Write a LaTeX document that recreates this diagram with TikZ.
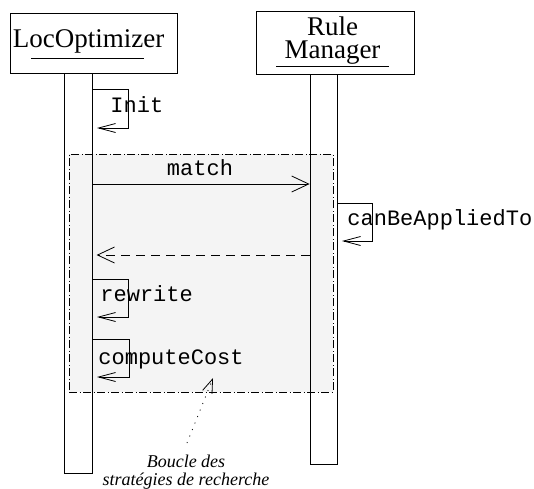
\documentclass[tikz,border=0pt]{standalone}
\usepackage{fontspec}
\setmainfont{Liberation Serif}
\newfontfamily\msgfont{Liberation Mono}
\usetikzlibrary{arrows.meta,positioning}
\definecolor{loopgray}{gray}{0.955}

\begin{document}
\begin{tikzpicture}[x=1pt,y=-1pt,line width=0.8pt,
  objbox/.style={draw,fill=white,inner sep=0pt},
  objname/.style={inner sep=0pt,font=\fontsize{27}{23}\selectfont,align=center},
  lifebar/.style={draw,inner sep=0pt},
  msg/.style={-{Straight Barb[length=17pt,width=16pt]}},
  selfmsg/.style={-{Straight Barb[length=17pt,width=9pt]}},
  lbl/.style={font=\msgfont\fontsize{22}{22}\selectfont,inner sep=0pt,anchor=base west},
  note/.style={font=\itshape\fontsize{18}{18}\selectfont,inner sep=0pt,align=center}]
\useasboundingbox (0,0) rectangle (534,488);
% loop frame, behind the lifelines
\node[draw,fill=loopgray,inner sep=0pt,minimum width=264pt,minimum height=238pt,
  dash pattern=on 8pt off 2.5pt on 1pt off 2.5pt] (loop) at (201,273) {};
% objects
\node[objbox,minimum width=167pt,minimum height=60pt] (lo) at (93.5,43) {};
\node[objname,anchor=base] (lotext) at (88.5,47) {LocOptimizer};
\draw (31,58) -- (144,58);
\node[objbox,minimum width=158pt,minimum height=63pt] (rm) at (335,42.5) {};
\node[objname,anchor=base] (rmtop) at (332.5,35) {Rule};
\node[objname,anchor=base] (rmtext) at (332.5,58) {Manager};
\draw (276,66) -- (389,66);
% lifelines
\node[lifebar,minimum width=28pt,minimum height=400pt] (lbar) at (78,273) {};
\node[lifebar,minimum width=27pt,minimum height=390pt] (rbar) at (323.5,269) {};
% messages
\draw[selfmsg] (lbar.east |- 0,89) -- (128,89) -- (128,128) -- ++(-31,0);
\node[lbl] (init) at (110,112) {Init};
\draw[msg] (lbar.east |- 0,184) -- (rbar.west |- 0,184);
\node[lbl,anchor=base] (match) at (200,175) {match};
\draw[selfmsg] (rbar.east |- 0,203) -- (372,203) -- (372,241) -- ++(-30,0);
\node[lbl] (apply) at (347,225) {canBeAppliedTo};
\draw[msg,dash pattern=on 9pt off 6pt] (rbar.west |- 0,255) -- ++(-213,0);
\draw[selfmsg] (lbar.east |- 0,279) -- (128,279) -- (128,317) -- ++(-31,0);
\node[lbl] (rewrite) at (100,301) {rewrite};
\draw[selfmsg] (lbar.east |- 0,339) -- (129,339) -- (129,377) -- ++(-32,0);
\node[lbl] (cost) at (98,364) {computeCost};
% note
\node[note,anchor=north] (loopnote) at (186,455) {Boucle des\\stratégies de recherche};
\draw[dash pattern=on 1pt off 6pt,-{Straight Barb[length=14pt,width=10pt]}]
  (loopnote.north) ++(1,-12) -- (213,378);
\end{tikzpicture}
\end{document}
